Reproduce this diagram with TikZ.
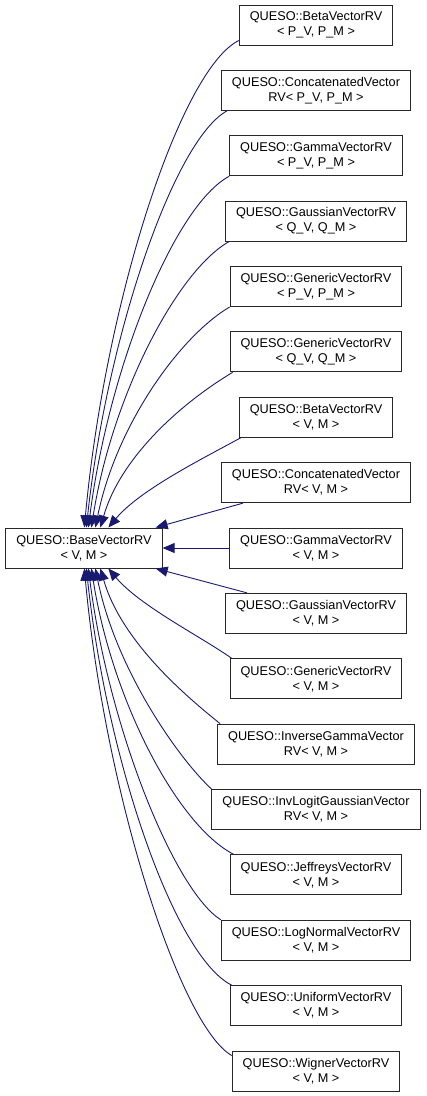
\documentclass[tikz,border=0pt]{standalone}
\usepackage{fontspec}
\setmainfont{Liberation Sans}
\usetikzlibrary{arrows.meta}
\definecolor{edgeblue}{RGB}{25,25,112}
\definecolor{boxline}{RGB}{40,40,40}
\begin{document}
\begin{tikzpicture}[x=1pt,y=-1pt,
  box/.style={draw=boxline, line width=1pt, fill=white, align=center, inner xsep=10.5pt, inner ysep=0pt,
    minimum height=40pt, font=\fontsize{12.7}{15}\selectfont},
  edge/.style={draw=edgeblue, line width=0.9pt, -{Triangle[length=12pt,width=10pt]}, fill=none},
  ]
\useasboundingbox (0,0) rectangle (427,1096);
\node[box] (base) at (84,548) {QUESO::BaseVectorRV\\< V, M >};
\node[box] (b0) at (316,25) {QUESO::BetaVectorRV\\< P\_V, P\_M >};
\node[box] (b1) at (316,90.375) {QUESO::ConcatenatedVector\\RV< P\_V, P\_M >};
\node[box] (b2) at (316,155.75) {QUESO::GammaVectorRV\\< P\_V, P\_M >};
\node[box] (b3) at (316,221.125) {QUESO::GaussianVectorRV\\< Q\_V, Q\_M >};
\node[box] (b4) at (316,286.5) {QUESO::GenericVectorRV\\< P\_V, P\_M >};
\node[box] (b5) at (316,351.875) {QUESO::GenericVectorRV\\< Q\_V, Q\_M >};
\node[box] (b6) at (316,417.25) {QUESO::BetaVectorRV\\< V, M >};
\node[box] (b7) at (316,482.625) {QUESO::ConcatenatedVector\\RV< V, M >};
\node[box] (b8) at (316,548) {QUESO::GammaVectorRV\\< V, M >};
\node[box] (b9) at (316,613.375) {QUESO::GaussianVectorRV\\< V, M >};
\node[box] (b10) at (316,678.75) {QUESO::GenericVectorRV\\< V, M >};
\node[box] (b11) at (316,744.125) {QUESO::InverseGammaVector\\RV< V, M >};
\node[box] (b12) at (316,809.5) {QUESO::InvLogitGaussianVector\\RV< V, M >};
\node[box] (b13) at (316,874.875) {QUESO::JeffreysVectorRV\\< V, M >};
\node[box] (b14) at (316,940.25) {QUESO::LogNormalVectorRV\\< V, M >};
\node[box] (b15) at (316,1005.625) {QUESO::UniformVectorRV\\< V, M >};
\node[box] (b16) at (316,1071) {QUESO::WignerVectorRV\\< V, M >};
% upper edges
\draw[edge] ([yshift=5pt]b0.south west) .. controls (180,70) and (105,303) .. ([xshift=79pt]base.north west);
\draw[edge] ([xshift=6pt]b1.south west) .. controls (174,140) and (107,336) .. ([xshift=81pt]base.north west);
\draw[edge] (b2.south west) .. controls (175,205) and (109,366) .. ([xshift=83pt]base.north west);
\draw[edge] ([xshift=4pt]b3.south west) .. controls (177,271) and (112,396) .. ([xshift=86pt]base.north west);
\draw[edge] (b4.south west) .. controls (179,337) and (116,426) .. ([xshift=90pt]base.north west);
\draw[edge] ([xshift=3pt]b5.south west) .. controls (183,402) and (121,456) .. ([xshift=95pt]base.north west);
\draw[edge] ([xshift=2pt]b6.south west) .. controls (200,460) and (140,490) .. ([xshift=103pt]base.north west);
\draw[edge] ([xshift=22pt]b7.south west) -- ([xshift=-7pt]base.north east);
\draw[edge] (b8.west) -- (base.east);
% lower edges
\draw[edge] ([xshift=22pt]b9.north west) -- ([xshift=-7pt]base.south east);
\draw[edge] ([xshift=2pt]b10.north west) .. controls (200,636) and (140,606) .. ([xshift=103pt]base.south west);
\draw[edge] ([xshift=3pt]b11.north west) .. controls (183,694) and (121,640) .. ([xshift=95pt]base.south west);
\draw[edge] (b12.north west) .. controls (179,759) and (116,670) .. ([xshift=90pt]base.south west);
\draw[edge] ([xshift=4pt]b13.north west) .. controls (177,825) and (112,700) .. ([xshift=86pt]base.south west);
\draw[edge] (b14.north west) .. controls (175,891) and (109,730) .. ([xshift=83pt]base.south west);
\draw[edge] ([xshift=2pt]b15.north west) .. controls (174,956) and (107,760) .. ([xshift=81pt]base.south west);
\draw[edge] ([yshift=-5pt]b16.north west) .. controls (180,1026) and (105,793) .. ([xshift=79pt]base.south west);
\end{tikzpicture}
\end{document}
